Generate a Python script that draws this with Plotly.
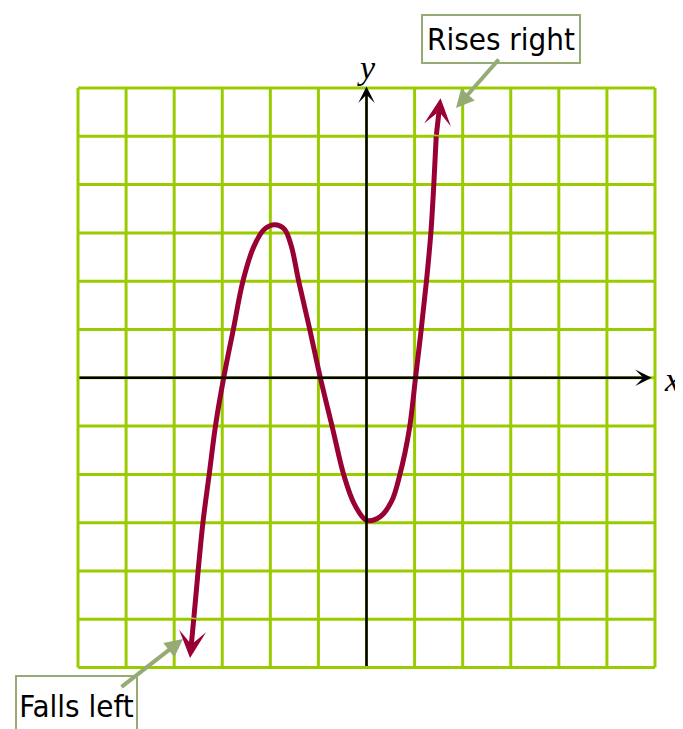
import plotly.graph_objects as go

# grid ticks (data units)
grid_ticks = [-6, -5, -4, -3, -2, -1, 0, 1, 2, 3, 4, 5, 6]

# curve (x, y)
curve_x = [-3.59, -3.50, -3.40, -3.27, -3.14, -2.97, -2.77, -2.57, -2.35, -2.13, -1.91,
           -1.71, -1.57, -1.41, -1.18, -0.96, -0.70, -0.47, -0.25, 0.00, 0.28, 0.52,
           0.69, 0.89, 1.02, 1.14, 1.25, 1.34, 1.40, 1.45]
curve_y = [-4.97, -3.98, -2.98, -1.99, -0.99, 0.00, 1.00, 2.00, 2.70, 3.07, 3.17,
           3.08, 2.75, 2.00, 1.00, 0.00, -1.07, -2.02, -2.62, -2.95, -2.88, -2.56,
           -2.02, -1.07, 0.00, 1.02, 2.03, 3.02, 4.00, 5.00]
left_tip = (-3.67, -5.80)
right_tip = (1.54, 5.79)

labels = ["Rises right", "Falls left"]

CURVE = "#990033"
GRID = "#99cc00"
POINTER = "#95ab73"

fig = go.Figure()

# grid lines
for v in grid_ticks:
    fig.add_shape(type="line", x0=v, x1=v, y0=grid_ticks[0], y1=grid_ticks[-1],
                  line=dict(color=GRID, width=3), layer="below")
    fig.add_shape(type="line", x0=grid_ticks[0], x1=grid_ticks[-1], y0=v, y1=v,
                  line=dict(color=GRID, width=3), layer="below")

fig.add_trace(go.Scatter(x=curve_x, y=curve_y, mode="lines",
                         line=dict(color=CURVE, width=5, shape="spline", smoothing=1.0),
                         hoverinfo="skip", showlegend=False))

ann = []
# axes with arrows
ann.append(dict(x=5.93, y=0, ax=-6, ay=0, xref="x", yref="y", axref="x", ayref="y",
                text="", showarrow=True, arrowhead=3, arrowsize=1.1, arrowwidth=2.5,
                arrowcolor="black"))
ann.append(dict(x=0, y=6.03, ax=0, ay=-6, xref="x", yref="y", axref="x", ayref="y",
                text="", showarrow=True, arrowhead=3, arrowsize=1.1, arrowwidth=2.5,
                arrowcolor="black"))
# curve arrowheads
ann.append(dict(x=left_tip[0], y=left_tip[1], ax=curve_x[0], ay=curve_y[0],
                xref="x", yref="y", axref="x", ayref="y", text="", showarrow=True,
                arrowhead=3, arrowsize=0.9, arrowwidth=5, arrowcolor=CURVE))
ann.append(dict(x=right_tip[0], y=right_tip[1], ax=curve_x[-1], ay=curve_y[-1],
                xref="x", yref="y", axref="x", ayref="y", text="", showarrow=True,
                arrowhead=3, arrowsize=0.9, arrowwidth=5, arrowcolor=CURVE))
# axis labels
ann.append(dict(x=6.354, y=-0.045, xref="x", yref="y", text="x", showarrow=False,
                font=dict(family="Liberation Serif", size=34, color="black", style="italic")))
ann.append(dict(x=-0.01, y=6.414, xref="x", yref="y", text="y", showarrow=False,
                font=dict(family="Liberation Serif", size=34, color="black", style="italic")))
# label boxes
label_font = dict(family="Liberation Sans Narrow, Arial Narrow, DejaVu Sans Condensed, sans-serif",
                  size=31, color="black")
ann.append(dict(x=2.798, y=7.015, xref="x", yref="y", text=labels[0], showarrow=False,
                font=label_font, bordercolor=POINTER, borderwidth=2, borderpad=0,
                bgcolor="white", width=156, height=46))
ann.append(dict(x=-6.031, y=-6.153, xref="x", yref="y", yanchor="top", text=labels[1],
                showarrow=False, font=label_font, bordercolor=POINTER, borderwidth=2,
                borderpad=0, bgcolor="white", width=119, height=58, valign="middle"))
# pointer arrows
ann.append(dict(x=1.862, y=5.586, ax=2.777, ay=6.621, xref="x", yref="y", axref="x", ayref="y",
                text="", showarrow=True, arrowhead=2, arrowsize=0.9, arrowwidth=4,
                arrowcolor=POINTER))
ann.append(dict(x=-3.816, y=-5.408, ax=-5.126, ay=-6.422, xref="x", yref="y", axref="x", ayref="y",
                text="", showarrow=True, arrowhead=2, arrowsize=0.9, arrowwidth=4,
                arrowcolor=POINTER))

# the page body has an 8px margin, so ranges are shifted to compensate
fig.update_layout(
    width=683, height=729,
    margin=dict(l=0, r=0, t=0, b=0),
    paper_bgcolor="white", plot_bgcolor="white",
    xaxis=dict(range=[-7.456, 6.749], visible=False, fixedrange=True),
    yaxis=dict(range=[-7.437, 7.656], visible=False, fixedrange=True),
    annotations=ann,
    showlegend=False,
)

fig.write_html("out.html")
